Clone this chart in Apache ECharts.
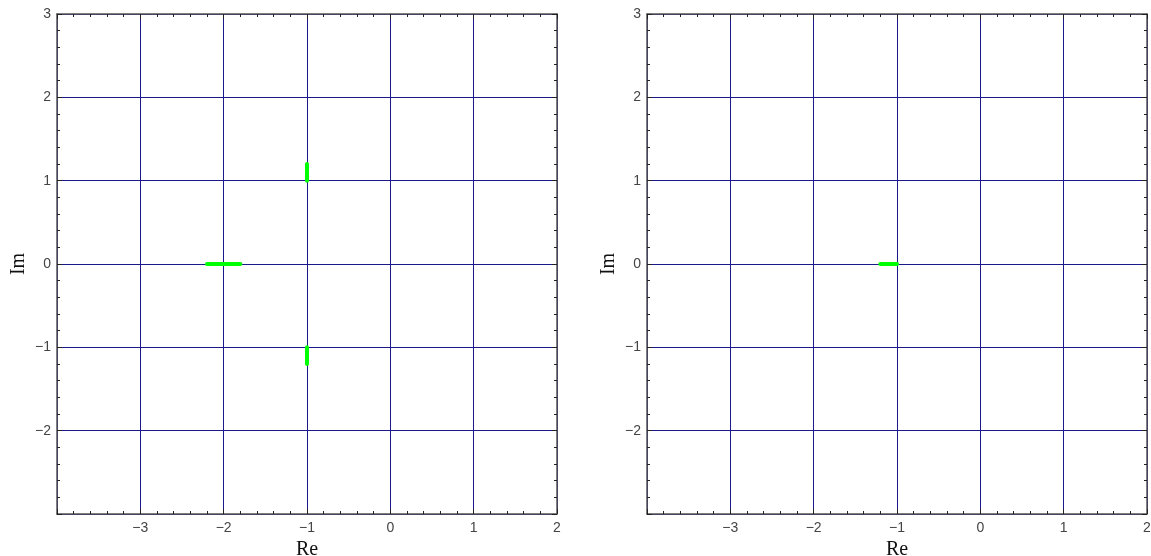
<!DOCTYPE html>
<html>
<head>
<meta charset="utf-8">
<script src="https://cdn.jsdelivr.net/npm/echarts@6/dist/echarts.min.js"></script>
<style>
  html, body { margin: 0; padding: 0; background: #fff; }
  #chart { width: 1151px; height: 556px; }
</style>
</head>
<body>
<div id="chart"></div>
<script>
// Axis ranges of both pole/zero planes
const reRange = [-4, 2];
const imRange = [-3, 3];

// Root-locus branches (pairs of [Re, Im] points) on each plane
const leftBranches = [
  [[-1, 1.0], [-1, 1.2]],
  [[-1, -1.0], [-1, -1.2]],
  [[-2.2, 0], [-1.8, 0]]
];
const rightBranches = [
  [[-1.2, 0], [-1.0, 0]]
];

const frameColor = '#555';
const gridColor = '#1a1a8a';
const locusColor = '#00ff00';
const tickFont = { fontFamily: 'Liberation Sans, DejaVu Sans, sans-serif', fontSize: 14, color: '#444' };
const nameFont = { fontFamily: 'Liberation Serif, DejaVu Serif, serif', fontSize: 20, color: '#111' };

const fmt = v => (v < 0 ? '\u2212' + Math.abs(v) : String(v));

function ticks() {
  return {
    axisLine: { show: true, onZero: false, lineStyle: { color: frameColor, width: 1.5 } },
    axisTick: { show: true, inside: true, length: 5, lineStyle: { color: '#222', width: 1 } },
    minorTick: { show: true, splitNumber: 5, length: 3, lineStyle: { color: '#222', width: 1 } }
  };
}

function xAxes(gi) {
  return [
    Object.assign({
      type: 'value', gridIndex: gi, position: 'bottom',
      min: reRange[0], max: reRange[1], interval: 1,
      name: 'Re', nameLocation: 'middle', nameGap: 23, nameTextStyle: nameFont,
      axisLabel: Object.assign({ formatter: fmt, showMinLabel: false, margin: 7 }, tickFont),
      splitLine: { show: true, lineStyle: { color: gridColor, width: 1 } }
    }, ticks()),
    Object.assign({
      type: 'value', gridIndex: gi, position: 'top',
      min: reRange[0], max: reRange[1], interval: 1,
      axisLabel: { show: false }, splitLine: { show: false }
    }, ticks())
  ];
}

function yAxes(gi) {
  return [
    Object.assign({
      type: 'value', gridIndex: gi, position: 'left',
      min: imRange[0], max: imRange[1], interval: 1,
      name: 'Im', nameLocation: 'middle', nameGap: 28, nameRotate: 90, nameTextStyle: nameFont,
      axisLabel: Object.assign({ formatter: fmt, showMinLabel: false, margin: 6 }, tickFont),
      splitLine: { show: true, lineStyle: { color: gridColor, width: 1 } }
    }, ticks()),
    Object.assign({
      type: 'value', gridIndex: gi, position: 'right',
      min: imRange[0], max: imRange[1], interval: 1,
      axisLabel: { show: false }, splitLine: { show: false }
    }, ticks())
  ];
}

function branchSeries(branches, gi) {
  return branches.map(seg => ({
    type: 'line', xAxisIndex: gi * 2, yAxisIndex: gi * 2,
    data: seg, symbol: 'none', silent: true, z: 5,
    lineStyle: { color: locusColor, width: 4, cap: 'round' }
  }));
}

const chart = echarts.init(document.getElementById('chart'), null, { renderer: 'canvas' });
chart.setOption({
  animation: false,
  backgroundColor: '#fff',
  grid: [
    { left: 57, top: 14, width: 500, height: 500, outerBoundsMode: 'none', containLabel: false },
    { left: 647, top: 14, width: 500, height: 500, outerBoundsMode: 'none', containLabel: false }
  ],
  xAxis: [...xAxes(0), ...xAxes(1)],
  yAxis: [...yAxes(0), ...yAxes(1)],
  series: [...branchSeries(leftBranches, 0), ...branchSeries(rightBranches, 1)]
});
</script>
</body>
</html>
